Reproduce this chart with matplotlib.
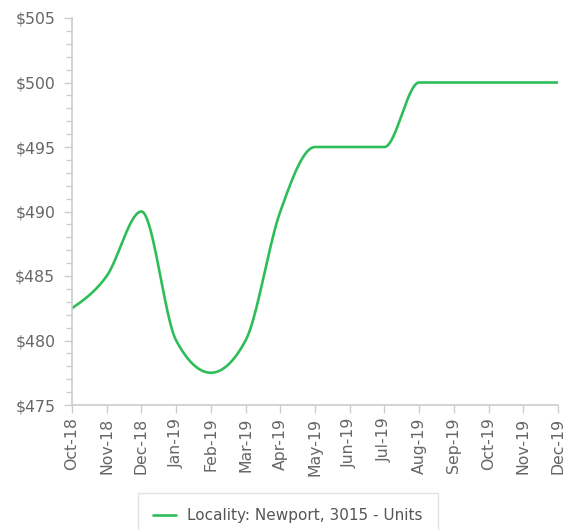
"""
Locality median rent - Newport 3015 Units
"""

import numpy as np
import matplotlib.pyplot as plt
from matplotlib.ticker import MultipleLocator, FuncFormatter

# Adatok
months = ['Oct-18', 'Nov-18', 'Dec-18', 'Jan-19', 'Feb-19', 'Mar-19', 'Apr-19',
          'May-19', 'Jun-19', 'Jul-19', 'Aug-19', 'Sep-19', 'Oct-19', 'Nov-19',
          'Dec-19']
rent = [482.5, 485, 490, 480, 477.5, 480, 490, 495, 495, 495, 500, 500, 500, 500, 500]
series_label = 'Locality: Newport, 3015 - Units'


def monotone_curve(x, y, n=40):
    # monoton kubikus görbe (mint a d3 curveMonotoneX)
    x = np.asarray(x, float)
    y = np.asarray(y, float)
    h = np.diff(x)
    s = np.diff(y) / h
    t = np.zeros(len(x))
    for i in range(1, len(x) - 1):
        p = (s[i - 1] * h[i] + s[i] * h[i - 1]) / (h[i - 1] + h[i])
        t[i] = (np.sign(s[i - 1]) + np.sign(s[i])) * min(abs(s[i - 1]), abs(s[i]), 0.5 * abs(p))
    t[0] = (3 * s[0] - t[1]) / 2
    t[-1] = (3 * s[-1] - t[-2]) / 2
    xs, ys = [], []
    for i in range(len(x) - 1):
        u = np.linspace(0, 1, n)
        h00 = 2 * u**3 - 3 * u**2 + 1
        h10 = u**3 - 2 * u**2 + u
        h01 = -2 * u**3 + 3 * u**2
        h11 = u**3 - u**2
        xs.append(x[i] + u * h[i])
        ys.append(h00 * y[i] + h10 * h[i] * t[i] + h01 * y[i + 1] + h11 * h[i] * t[i + 1])
    return np.concatenate(xs), np.concatenate(ys)


xpos = np.arange(len(months))
cx, cy = monotone_curve(xpos, rent)

fig = plt.figure(figsize=(5.74, 5.30), dpi=100)
ax = fig.add_axes([72 / 574, 125 / 530, 486 / 574, 387 / 530])

ax.plot(cx, cy, color='#2ebd59', lw=1.9, label=series_label, solid_capstyle='round')

ax.set_xlim(0, len(months) - 1)
ax.set_ylim(475, 505)
ax.set_xticks(xpos)
ax.set_xticklabels(months, rotation=90)
ax.yaxis.set_major_locator(MultipleLocator(5))
ax.yaxis.set_minor_locator(MultipleLocator(1))
ax.yaxis.set_major_formatter(FuncFormatter(lambda v, p: f'${v:.0f}'))

for side in ['top', 'right']:
    ax.spines[side].set_visible(False)
for side in ['left', 'bottom']:
    ax.spines[side].set_color('#cccccc')
    ax.spines[side].set_linewidth(1.2)

ax.tick_params(axis='both', which='major', colors='#cccccc', labelcolor='#666666',
               labelsize=11.3, length=6, width=1)
ax.tick_params(axis='y', which='major', pad=6)
ax.tick_params(axis='x', which='major', pad=3)
ax.tick_params(axis='y', which='minor', colors='#cccccc', length=4, width=1)

leg = fig.legend(loc='upper center', bbox_to_anchor=(288 / 574, 37 / 530),
                 borderaxespad=0, fontsize=11, frameon=True, fancybox=False,
                 edgecolor='#dddddd', handlelength=1.5, handletextpad=0.7,
                 borderpad=1.0, labelcolor='#555555')
leg.get_frame().set_linewidth(1.0)

fig.savefig('out.png', dpi=100)
